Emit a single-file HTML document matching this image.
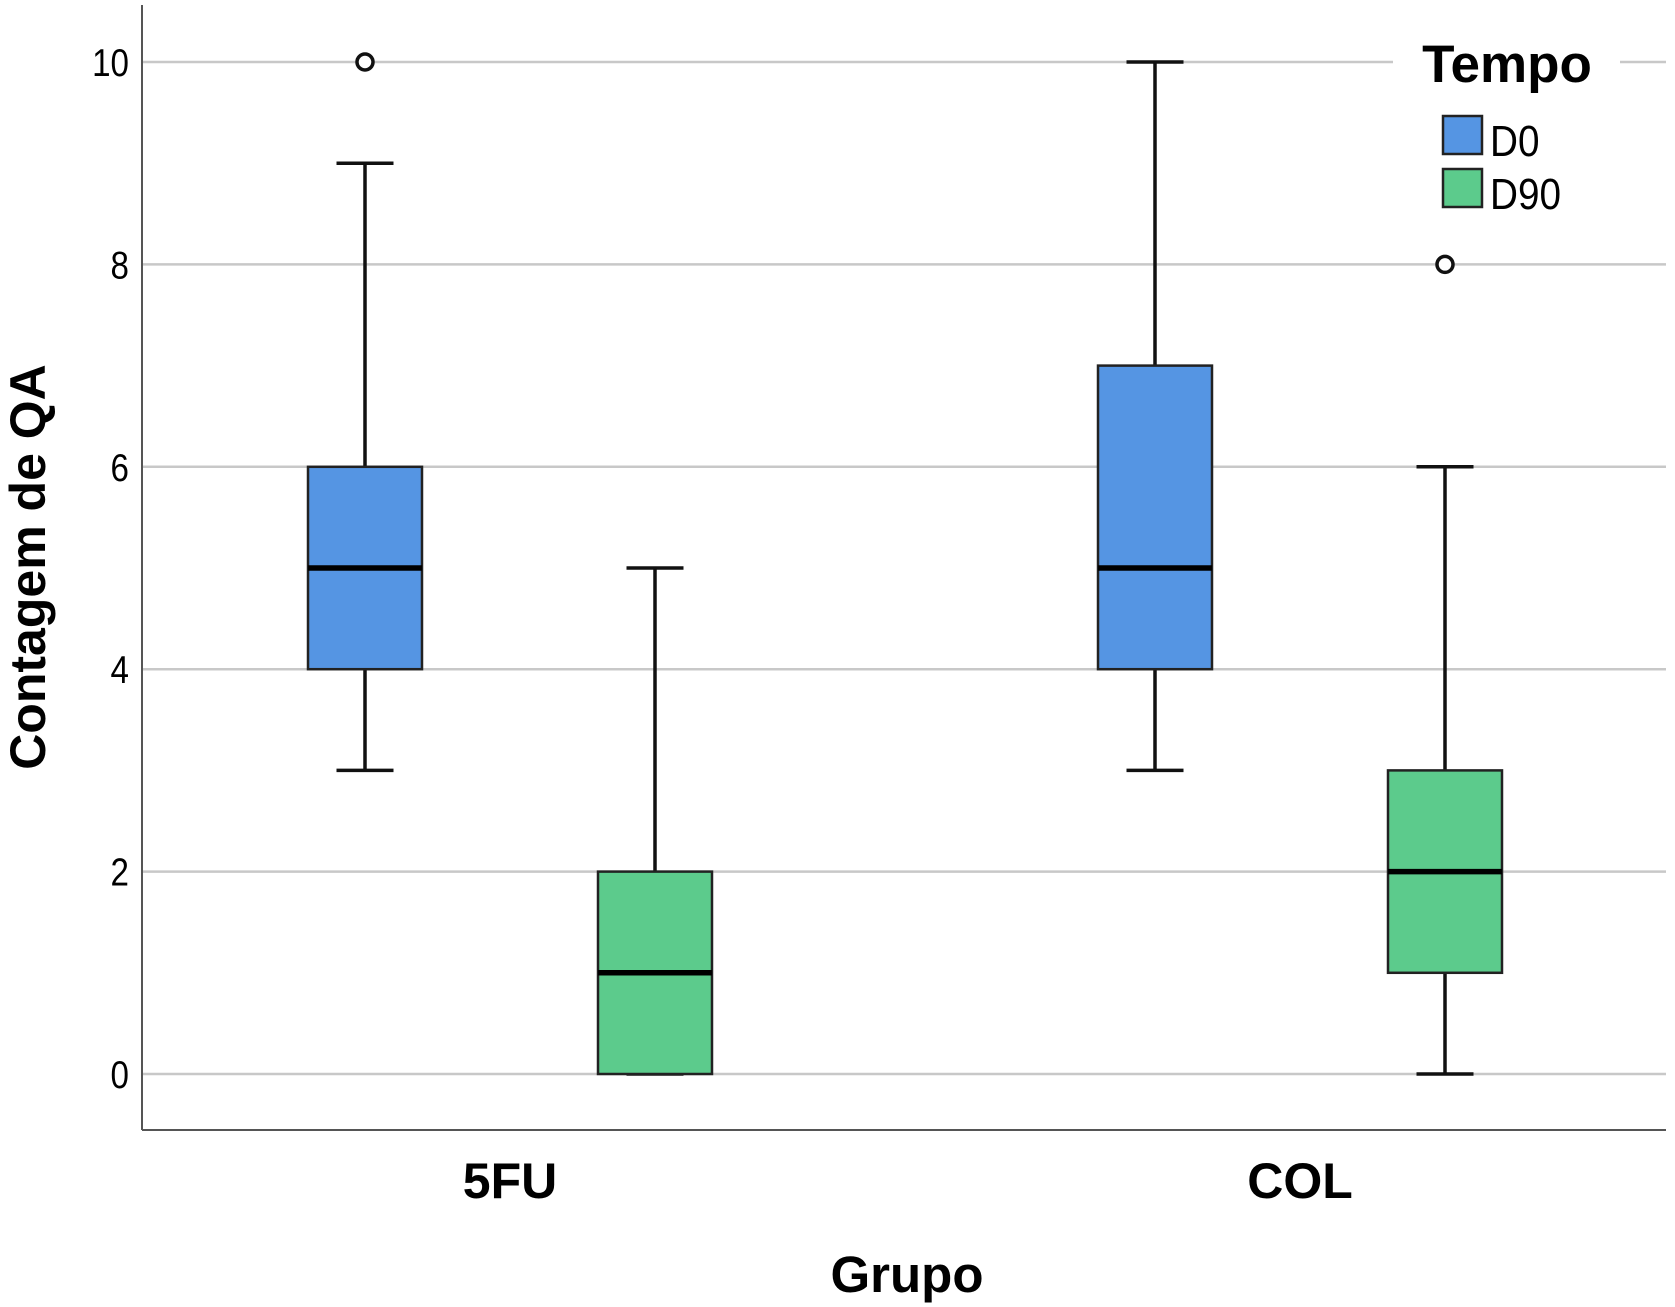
<!DOCTYPE html>
<html><head><meta charset="utf-8"><style>
html,body{margin:0;padding:0;background:#fff;}
svg{display:block;font-family:"Liberation Sans",Arial,sans-serif;}
</style></head><body>
<svg id="chart" width="1675" height="1307" viewBox="0 0 1675 1307">
<g id="grid"></g>
<g id="yticks"></g>
<g id="boxes"></g>
<line x1="142" y1="5" x2="142" y2="1130" stroke="#555" stroke-width="2"/>
<line x1="142" y1="1130" x2="1666" y2="1130" stroke="#555" stroke-width="2"/>
<g id="xlabels"></g>
<text x="907" y="1292" font-size="51" font-weight="bold" text-anchor="middle">Grupo</text>
<text transform="translate(45,567) rotate(-90)" font-size="50" font-weight="bold" text-anchor="middle">Contagem de QA</text>
<g>
<rect x="1393" y="35" width="227" height="55" fill="#fff"/>
<text x="1507" y="82" font-size="53" font-weight="bold" text-anchor="middle">Tempo</text>
<rect x="1443" y="116" width="39" height="38" fill="#5595e3" stroke="#222" stroke-width="2.5"/>
<text x="1490" y="156" font-size="44" transform="translate(1490,0) scale(0.88,1) translate(-1490,0)">D0</text>
<rect x="1443" y="169" width="39" height="38" fill="#5ccb8c" stroke="#222" stroke-width="2.5"/>
<text x="1490" y="209" font-size="44" transform="translate(1490,0) scale(0.88,1) translate(-1490,0)">D90</text>
</g>
</svg>
<script>
const groups = ["5FU", "COL"];
const series = ["D0", "D90"];
const mins = [[3, 0], [3, 0]];
const q1s = [[4, 0], [4, 1]];
const medians = [[5, 1], [5, 2]];
const q3s = [[6, 2], [7, 3]];
const maxs = [[9, 5], [10, 6]];
const outliers = [[[10], []], [[], [8]]];
const yTicks = [0, 2, 4, 6, 8, 10];

const colors = ["#5595e3", "#5ccb8c"];
const NS = "http://www.w3.org/2000/svg";
const y = v => 1074 - v * 101.2;
const groupCenter = [510, 1300];
const offset = 145;
const xPos = (g, s) => groupCenter[g] + (s === 0 ? -offset : offset);
function mk(tag, attrs, parent) {
  const e = document.createElementNS(NS, tag);
  for (const k in attrs) e.setAttribute(k, attrs[k]);
  parent.appendChild(e);
  return e;
}
const grid = document.getElementById('grid');
const yt = document.getElementById('yticks');
yTicks.forEach(t => {
  const l = mk('line', {x1: 142, x2: 1666, y1: y(t), y2: y(t), stroke: '#c8c8c8', 'stroke-width': 2.5}, grid);
  
  
  const tx = mk('text', {x: 0, y: 0, 'font-size': 39, 'text-anchor': 'end', transform: `translate(129,${y(t) + 14}) scale(0.85,1)`}, yt);
  tx.textContent = t;
  
  
});
const xl = document.getElementById('xlabels');
groups.forEach((g, i) => {
  const tx = mk('text', {x: groupCenter[i], y: 1198, 'font-size': 50, 'font-weight': 'bold', 'text-anchor': 'middle'}, xl);
  tx.textContent = g;
  
  
});
const boxes = document.getElementById('boxes');
const bw = 114, cw = 57;
groups.forEach((g, gi) => series.forEach((s, si) => {
  const cx = xPos(gi, si);
  const grp = mk('g', {}, boxes);
  
  
  const st = {stroke: '#111', 'stroke-width': 3.5};
  mk('line', Object.assign({x1: cx, x2: cx, y1: y(maxs[gi][si]), y2: y(q3s[gi][si])}, st), grp);
  mk('line', Object.assign({x1: cx, x2: cx, y1: y(q1s[gi][si]), y2: y(mins[gi][si])}, st), grp);
  mk('line', Object.assign({x1: cx - cw / 2, x2: cx + cw / 2, y1: y(maxs[gi][si]), y2: y(maxs[gi][si])}, st), grp);
  mk('line', Object.assign({x1: cx - cw / 2, x2: cx + cw / 2, y1: y(mins[gi][si]), y2: y(mins[gi][si])}, st), grp);
  mk('rect', {x: cx - bw / 2, y: y(q3s[gi][si]), width: bw, height: y(q1s[gi][si]) - y(q3s[gi][si]), fill: colors[si], stroke: '#222', 'stroke-width': 2.5}, grp);
  mk('line', {x1: cx - bw / 2, x2: cx + bw / 2, y1: y(medians[gi][si]), y2: y(medians[gi][si]), stroke: '#000', 'stroke-width': 5.5}, grp);
  outliers[gi][si].forEach(o => {
    const c = mk('circle', {cx: cx, cy: y(o), r: 8, fill: '#fff', stroke: '#111', 'stroke-width': 3.5}, grp);
    
    
  });
}));
</script>
</body></html>
